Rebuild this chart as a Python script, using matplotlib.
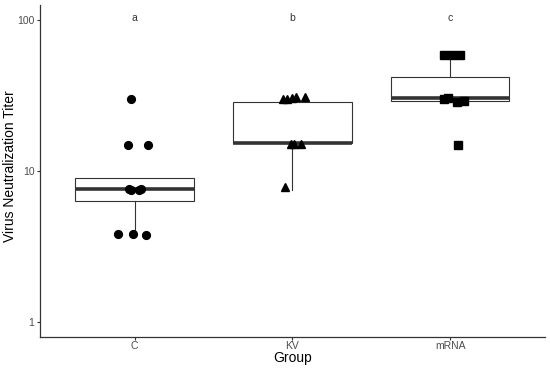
import matplotlib
matplotlib.use('Agg')
import matplotlib.pyplot as plt
import numpy as np

plt.rcParams['font.family'] = ['Liberation Sans', 'DejaVu Sans']

# groups and data
groups = ['C', 'KV', 'mRNA']
markers = ['o', '^', 's']
letters = ['a', 'b', 'c']

c_vals = [30, 15, 15, 7.6, 7.5, 7.55, 7.6, 3.85, 3.85, 3.75]
kv_vals = [30, 30, 30.5, 31, 31, 15.2, 15.2, 15.2, 7.8]
mrna_vals = [59, 59, 59, 30, 30.5, 28.8, 29.2, 15]

# horizontal jitter (group units)
c_jit = [-0.02, -0.04, 0.085, -0.035, -0.02, 0.025, 0.04, -0.105, -0.013, 0.07]
kv_jit = [-0.06, -0.035, -0.005, 0.02, 0.08, -0.01, 0.01, 0.055, -0.05]
mrna_jit = [-0.04, 0.01, 0.06, -0.04, -0.015, 0.04, 0.085, 0.05]

# box summary stats
q1 = [6.36, 15.3, 29.0]
med = [7.6, 15.3, 30.4]
q3 = [9.03, 28.8, 42.0]
whislo = [3.75, 7.5, 29.0]
whishi = [9.03, 28.8, 59.0]

values = [c_vals, kv_vals, mrna_vals]
jitter = [c_jit, kv_jit, mrna_jit]

fig = plt.figure(figsize=(5.5, 3.68), dpi=100)
ax = fig.add_axes([0.0727, 0.084, 0.918, 0.902])

stats = []
for i in range(len(groups)):
    stats.append(dict(q1=q1[i], med=med[i], q3=q3[i], whislo=whislo[i],
                      whishi=whishi[i], fliers=[], label=groups[i]))

ax.bxp(stats, positions=[1, 2, 3], widths=0.75, showcaps=False,
       showfliers=False, patch_artist=True,
       boxprops=dict(facecolor='white', edgecolor='#333333', linewidth=0.8),
       whiskerprops=dict(color='#333333', linewidth=0.8),
       medianprops=dict(color='#333333', linewidth=2.6))

for i, (vals, jit) in enumerate(zip(values, jitter)):
    xs = np.array(jit) + (i + 1)
    ms = 6.2 if markers[i] == '^' else 5.6
    ax.plot(xs, vals, linestyle='none', marker=markers[i], color='black',
            markersize=ms, zorder=5)
    ax.text(i + 1, 104, letters[i], ha='center', va='center',
            fontsize=7.5, color='#333333')

ax.set_yscale('log')
ax.set_ylim(0.796, 125.7)
ax.set_xlim(0.4, 3.6)
ax.set_yticks([1, 10, 100])
ax.set_yticklabels(['1', '10', '100'])
ax.minorticks_off()
ax.set_xticks([1, 2, 3])
ax.set_xticklabels(groups)

for s in ['top', 'right']:
    ax.spines[s].set_visible(False)
for s in ['left', 'bottom']:
    ax.spines[s].set_color('#333333')
    ax.spines[s].set_linewidth(0.9)

ax.tick_params(colors='#333333', labelcolor='#4D4D4D', labelsize=7.5,
               length=2.5, width=0.8, pad=1.5)
ax.tick_params(axis='x', pad=0.6)
ax.set_xlabel('Group', fontsize=10, labelpad=0)
ax.set_ylabel('Virus Neutralization Titer', fontsize=10)
ax.yaxis.set_label_coords(-0.045, 0.515)

fig.savefig('out.png', dpi=100, facecolor='white')
